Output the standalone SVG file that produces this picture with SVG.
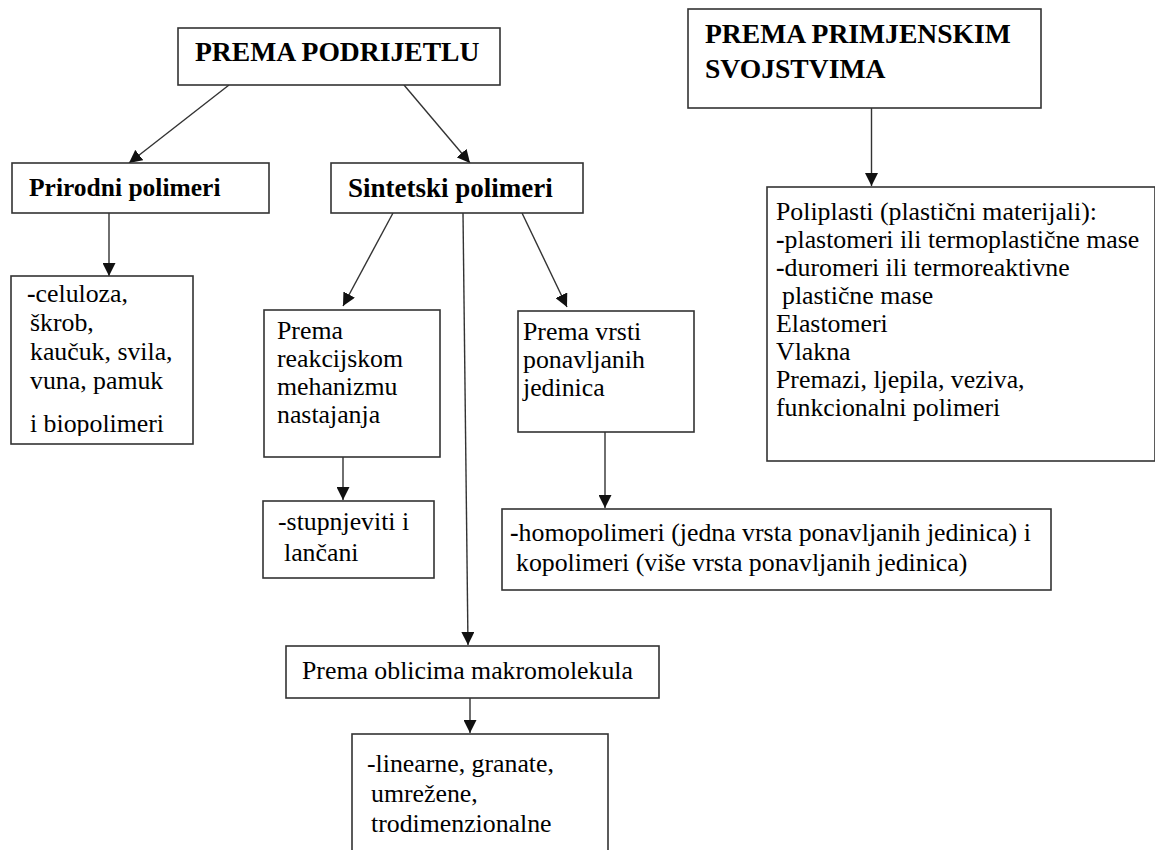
<svg xmlns="http://www.w3.org/2000/svg" width="1155" height="850" viewBox="0 0 1155 850">
<style>
.box{fill:#fff;stroke:#333;stroke-width:1.6}
.t{font-family:"Liberation Serif","Times New Roman",serif;font-size:25.8px;fill:#000}
.b{font-family:"Liberation Serif","Times New Roman",serif;font-weight:bold;fill:#000}
.h{font-family:"Liberation Serif","Times New Roman",serif;font-size:27.6px;font-weight:bold;fill:#000}
.bd{font-weight:bold}
.c{fill:none;stroke:#333;stroke-width:1.4}
</style>
<defs>
<marker id="ah" markerUnits="userSpaceOnUse" markerWidth="14" markerHeight="13" refX="13" refY="6.5" orient="auto">
<path d="M0,0 L13,6.5 L0,13 z" fill="#111"/>
</marker>
<clipPath id="clipCel"><rect x="11" y="276" width="182" height="160"/></clipPath>
</defs>
<rect width="1155" height="850" fill="#fff"/>
<g id="connectors">
<line class="c" x1="229" y1="85" x2="129" y2="163" marker-end="url(#ah)"/>
<line class="c" x1="404" y1="85" x2="470" y2="163" marker-end="url(#ah)"/>
<line class="c" x1="109" y1="213" x2="109" y2="276" marker-end="url(#ah)"/>
<line class="c" x1="393" y1="213" x2="343" y2="306" marker-end="url(#ah)"/>
<line class="c" x1="522" y1="213" x2="567" y2="307" marker-end="url(#ah)"/>
<line class="c" x1="463" y1="213" x2="468" y2="645" marker-end="url(#ah)"/>
<line class="c" x1="343" y1="457" x2="343" y2="500" marker-end="url(#ah)"/>
<line class="c" x1="605" y1="432" x2="605" y2="508" marker-end="url(#ah)"/>
<line class="c" x1="470" y1="698" x2="470" y2="733" marker-end="url(#ah)"/>
<line class="c" x1="871.5" y1="108" x2="871.5" y2="186" marker-end="url(#ah)"/>
</g>
<g id="n-podrijetlu">
<rect class="box" x="178" y="28" width="322" height="57"/>
<text class="h" x="195" y="61">PREMA PODRIJETLU</text>
</g>
<g id="n-primjenskim">
<rect class="box" x="688" y="9" width="353" height="99"/>
<text class="h"><tspan x="705" y="43">PREMA PRIMJENSKIM</tspan><tspan x="705" y="78">SVOJSTVIMA</tspan></text>
</g>
<g id="n-prirodni">
<rect class="box" x="12" y="163" width="257" height="50"/>
<text class="b" font-size="25.5" x="29" y="196">Prirodni polimeri</text>
</g>
<g id="n-sintetski">
<rect class="box" x="331" y="163" width="252" height="50"/>
<text class="b" font-size="27" x="348" y="197">Sintetski polimeri</text>
</g>
<g id="n-celuloza">
<rect class="box" x="11" y="276" width="182" height="168"/>
<text class="t" clip-path="url(#clipCel)"><tspan x="27" y="302"><tspan class="bd">-</tspan>celuloza,</tspan><tspan x="30" y="331">škrob,</tspan><tspan x="30" y="360">kaučuk, svila,</tspan><tspan x="30" y="389">vuna, pamuk</tspan><tspan x="30" y="432">i biopolimeri</tspan></text>
</g>
<g id="n-reakcijski">
<rect class="box" x="264" y="310" width="176" height="147"/>
<text class="t"><tspan x="277" y="339">Prema</tspan><tspan x="277" y="367">reakcijskom</tspan><tspan x="277" y="395">mehanizmu</tspan><tspan x="277" y="423">nastajanja</tspan></text>
</g>
<g id="n-vrsti">
<rect class="box" x="518" y="311" width="176" height="121"/>
<text class="t"><tspan x="523" y="340">Prema vrsti</tspan><tspan x="523" y="368">ponavljanih</tspan><tspan x="523" y="396">jedinica</tspan></text>
</g>
<g id="n-poliplasti">
<rect class="box" x="767" y="187" width="388" height="274"/>
<text class="t"><tspan x="776" y="220">Poliplasti (plastični materijali):</tspan><tspan x="776" y="248"><tspan class="bd">-</tspan>plastomeri ili termoplastične mase</tspan><tspan x="776" y="276"><tspan class="bd">-</tspan>duromeri ili termoreaktivne</tspan><tspan x="782" y="304">plastične mase</tspan><tspan x="776" y="332">Elastomeri</tspan><tspan x="776" y="360">Vlakna</tspan><tspan x="776" y="388">Premazi, ljepila, veziva,</tspan><tspan x="776" y="416">funkcionalni polimeri</tspan></text>
</g>
<g id="n-stupnjeviti">
<rect class="box" x="263" y="501" width="171" height="77"/>
<text class="t"><tspan x="278" y="530">-stupnjeviti i</tspan><tspan x="284" y="561">lančani</tspan></text>
</g>
<g id="n-homo">
<rect class="box" x="502" y="509" width="549" height="81"/>
<text class="t"><tspan x="510" y="541"><tspan class="bd">-</tspan>homopolimeri (jedna vrsta ponavljanih jedinica) i</tspan><tspan x="516" y="571">kopolimeri (više vrsta ponavljanih jedinica)</tspan></text>
</g>
<g id="n-oblicima">
<rect class="box" x="286" y="646" width="373" height="52"/>
<text class="t" x="302" y="679">Prema oblicima makromolekula</text>
</g>
<g id="n-linearne">
<rect class="box" x="352" y="734" width="256" height="140"/>
<text class="t"><tspan x="367" y="772">-linearne, granate,</tspan><tspan x="371" y="802">umrežene,</tspan><tspan x="371" y="832">trodimenzionalne</tspan></text>
</g>
</svg>
